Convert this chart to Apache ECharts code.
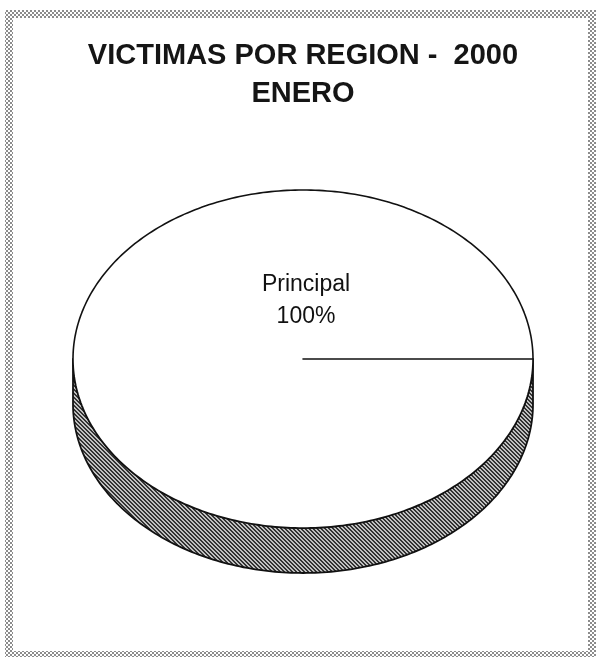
<!DOCTYPE html>
<html>
<head>
<meta charset="utf-8">
<script src="https://cdn.jsdelivr.net/npm/echarts@6/dist/echarts.min.js"></script>
<style>
  html, body { margin: 0; padding: 0; background: #fff; }
  #chart { width: 596px; height: 657px; }
</style>
</head>
<body>
<div id="chart"></div>
<script>
// ---- data ----
const titleLines = ['VICTIMAS POR REGION -  2000', 'ENERO'];
const categories = ['Principal'];
const values = [100];

// ---- patterns ----
function makeHatch() {
  const c = document.createElement('canvas');
  c.width = 4; c.height = 4;
  const g = c.getContext('2d');
  g.fillStyle = '#c0c0c0';
  g.fillRect(0, 0, 4, 4);
  g.fillStyle = '#333333';
  for (let i = 0; i < 4; i++) { g.fillRect(i, i, 1, 1); g.fillRect((i + 1) % 4, i, 1, 1); }
  return c;
}
function makeChecker() {
  const c = document.createElement('canvas');
  c.width = 4; c.height = 4;
  const g = c.getContext('2d');
  g.fillStyle = '#ffffff';
  g.fillRect(0, 0, 4, 4);
  g.fillStyle = '#8c8c8c';
  g.fillRect(0, 0, 2, 2);
  g.fillRect(2, 2, 2, 2);
  return c;
}
const hatch = makeHatch();
const checker = makeChecker();

// ---- geometry (layout) ----
const CX = 303, CY = 359, RX = 230, RY = 169, DEPTH = 45;
const total = values.reduce((a, b) => a + b, 0);

function ptsArc(a0, a1, dy) {
  const pts = [];
  const n = Math.max(2, Math.ceil(Math.abs(a1 - a0) / (Math.PI / 180)));
  for (let k = 0; k <= n; k++) {
    const t = a0 + (a1 - a0) * k / n;
    pts.push([CX + RX * Math.cos(t), CY - RY * Math.sin(t) + dy]);
  }
  return pts;
}

function renderItem(params, api) {
  const i = params.dataIndex;
  let cum = 0;
  for (let j = 0; j < i; j++) cum += values[j];
  const v = api.value(1);
  const a0 = cum / total * Math.PI * 2;
  const a1 = (cum + v) / total * Math.PI * 2;
  const children = [];
  const s0 = Math.max(a0, Math.PI), s1 = Math.min(a1, Math.PI * 2);
  if (s1 > s0) {
    const top = ptsArc(s0, s1, 0);
    const bot = ptsArc(s1, s0, DEPTH);
    children.push({
      type: 'polygon',
      shape: { points: top.concat(bot) },
      style: { fill: { image: hatch, repeat: 'repeat' }, stroke: '#111', lineWidth: 1.8, lineJoin: 'round' }
    });
  }
  const face = [[CX, CY]].concat(ptsArc(a0, a1, 0));
  children.push({
    type: 'polygon',
    shape: { points: face },
    style: { fill: '#ffffff', stroke: '#111', lineWidth: 1.6, lineJoin: 'round' }
  });
  const pct = Math.round(v / total * 100) + '%';
  children.push({
    type: 'text',
    x: CX + 3, y: CY - 58,
    style: {
      text: categories[i] + '\n' + pct,
      fill: '#111',
      font: '23px "Liberation Sans", Arial, sans-serif',
      lineHeight: 32,
      align: 'center',
      verticalAlign: 'middle'
    }
  });
  return { type: 'group', children: children };
}

const chart = echarts.init(document.getElementById('chart'), null, { renderer: 'canvas' });
chart.setOption({
  backgroundColor: '#ffffff',
  animation: false,
  title: {
    text: titleLines.join('\n'),
    left: 298,
    top: 32,
    textAlign: 'center',
    textStyle: {
      fontFamily: '"Liberation Sans", Arial, sans-serif',
      fontSize: 29,
      fontWeight: 'bold',
      lineHeight: 38,
      color: '#151515'
    }
  },
  graphic: [{
    type: 'rect',
    shape: { x: 9, y: 14, width: 583, height: 641 },
    style: { fill: 'none', stroke: { image: checker, repeat: 'repeat' }, lineWidth: 8 },
    silent: true,
    z: -1
  }],
  series: [{
    type: 'custom',
    coordinateSystem: 'none',
    renderItem: renderItem,
    data: categories.map((c, i) => [i, values[i]])
  }]
});
</script>
</body>
</html>
